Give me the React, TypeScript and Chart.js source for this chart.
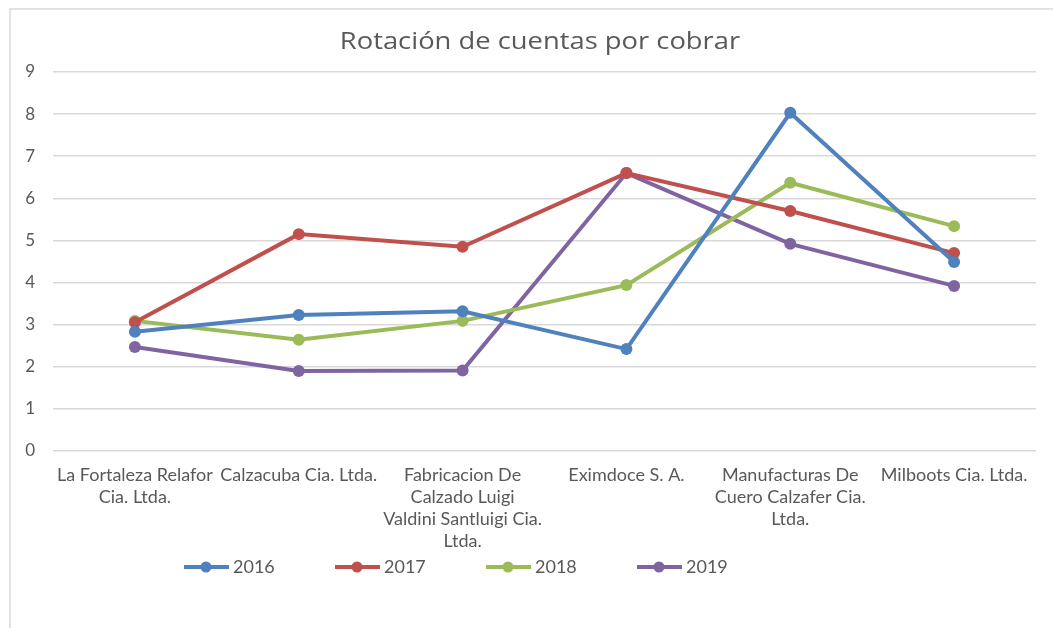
import React, { useEffect, useRef } from "react";
import { Chart, registerables } from "chart.js";

Chart.register(...registerables);

const TITLE = "Rotación de cuentas por cobrar";
const categories: string[][] = [
  ["La Fortaleza Relafor", "Cia. Ltda."],
  ["Calzacuba Cia. Ltda."],
  ["Fabricacion De", "Calzado Luigi", "Valdini Santluigi Cia.", "Ltda."],
  ["Eximdoce S. A."],
  ["Manufacturas De", "Cuero Calzafer Cia.", "Ltda."],
  ["Milboots Cia. Ltda."],
];
const seriesNames = ["2016", "2017", "2018", "2019"];
const v2016 = [2.83, 3.23, 3.32, 2.42, 8.03, 4.49];
const v2017 = [3.06, 5.15, 4.85, 6.6, 5.7, 4.7];
const v2018 = [3.09, 2.64, 3.09, 3.94, 6.37, 5.34];
const v2019 = [2.47, 1.9, 1.91, 6.6, 4.92, 3.92];
const colors = ["#4F81BD", "#C0504D", "#9BBB59", "#8064A2"];

const FONT = "Lato, 'Open Sans', sans-serif";
const TEXT = "#595959";

const framePlugin = {
  id: "frame",
  beforeDraw(chart: any) {
    const ctx = chart.ctx;
    ctx.save();
    ctx.fillStyle = "#ffffff";
    ctx.fillRect(0, 0, chart.width, chart.height);
    ctx.strokeStyle = "#d9d9d9";
    ctx.lineWidth = 1.5;
    ctx.strokeRect(10, 9, chart.width + 20, chart.height + 20);
    ctx.restore();
  },
  afterDraw(chart: any) {
    const ctx = chart.ctx;
    ctx.save();
    // title (horizontally widened like the reference)
    ctx.fillStyle = TEXT;
    ctx.font = `24px 'Open Sans', sans-serif`;
    ctx.textAlign = "center";
    ctx.textBaseline = "middle";
    ctx.save();
    ctx.translate(540, 42);
    ctx.scale(1.14, 1);
    ctx.fillText(TITLE, 0, 0);
    ctx.restore();
    // legend
    const startX = 184;
    const step = 151;
    const y = 567;
    chart.data.datasets.forEach((ds: any, i: number) => {
      const x = startX + i * step;
      ctx.strokeStyle = ds.borderColor;
      ctx.lineWidth = 4;
      ctx.beginPath();
      ctx.moveTo(x, y);
      ctx.lineTo(x + 45, y);
      ctx.stroke();
      ctx.fillStyle = ds.borderColor;
      ctx.beginPath();
      ctx.arc(x + 22, y, 5.5, 0, Math.PI * 2);
      ctx.fill();
      ctx.fillStyle = TEXT;
      ctx.font = `18px ${FONT}`;
      ctx.textAlign = "left";
      ctx.textBaseline = "middle";
      ctx.fillText(ds.label, x + 49, y);
    });
    ctx.restore();
  },
};

export default function App() {
  const ref = useRef<HTMLCanvasElement>(null);
  useEffect(() => {
    if (!ref.current) return;
    const values = [v2016, v2017, v2018, v2019];
    const chart = new Chart(ref.current, {
      type: "line",
      data: {
        labels: categories as any,
        datasets: seriesNames.map((name, i) => ({
          label: name,
          data: values[i],
          borderColor: colors[i],
          backgroundColor: colors[i],
          borderWidth: 4,
          pointRadius: 6,
          pointBackgroundColor: colors[i],
          pointBorderWidth: 0,
          tension: 0,
        })),
      },
      options: {
        animation: false,
        responsive: false,
        devicePixelRatio: 1,
        layout: { padding: { top: 72, right: 17, bottom: 0, left: 0 } },
        plugins: {
          legend: { display: false },
          title: { display: false },
          tooltip: { enabled: false },
        },
        scales: {
          x: {
            offset: true,
            grid: { display: false, drawTicks: false },
            border: { display: false },
            ticks: {
              color: TEXT,
              font: { family: FONT, size: 18, lineHeight: 1.23 },
              padding: 13,
              maxRotation: 0,
              minRotation: 0,
              autoSkip: false,
            },
            afterFit(scale: any) {
              scale.height = 177;
            },
          },
          y: {
            min: 0,
            max: 9,
            ticks: {
              stepSize: 1,
              color: TEXT,
              font: { family: FONT, size: 17 },
              padding: 18,
            },
            grid: { color: "#d9d9d9", lineWidth: 1.5, drawTicks: false },
            border: { display: false },
            afterFit(scale: any) {
              scale.width = 53;
            },
          },
        },
      },
      plugins: [framePlugin],
    });
    return () => chart.destroy();
  }, []);
  return (
    <div style={{ position: "absolute", left: 0, top: 0, width: 1053, height: 628 }}>
      <canvas ref={ref} width={1053} height={628} style={{ width: 1053, height: 628, display: "block" }} />
    </div>
  );
}
